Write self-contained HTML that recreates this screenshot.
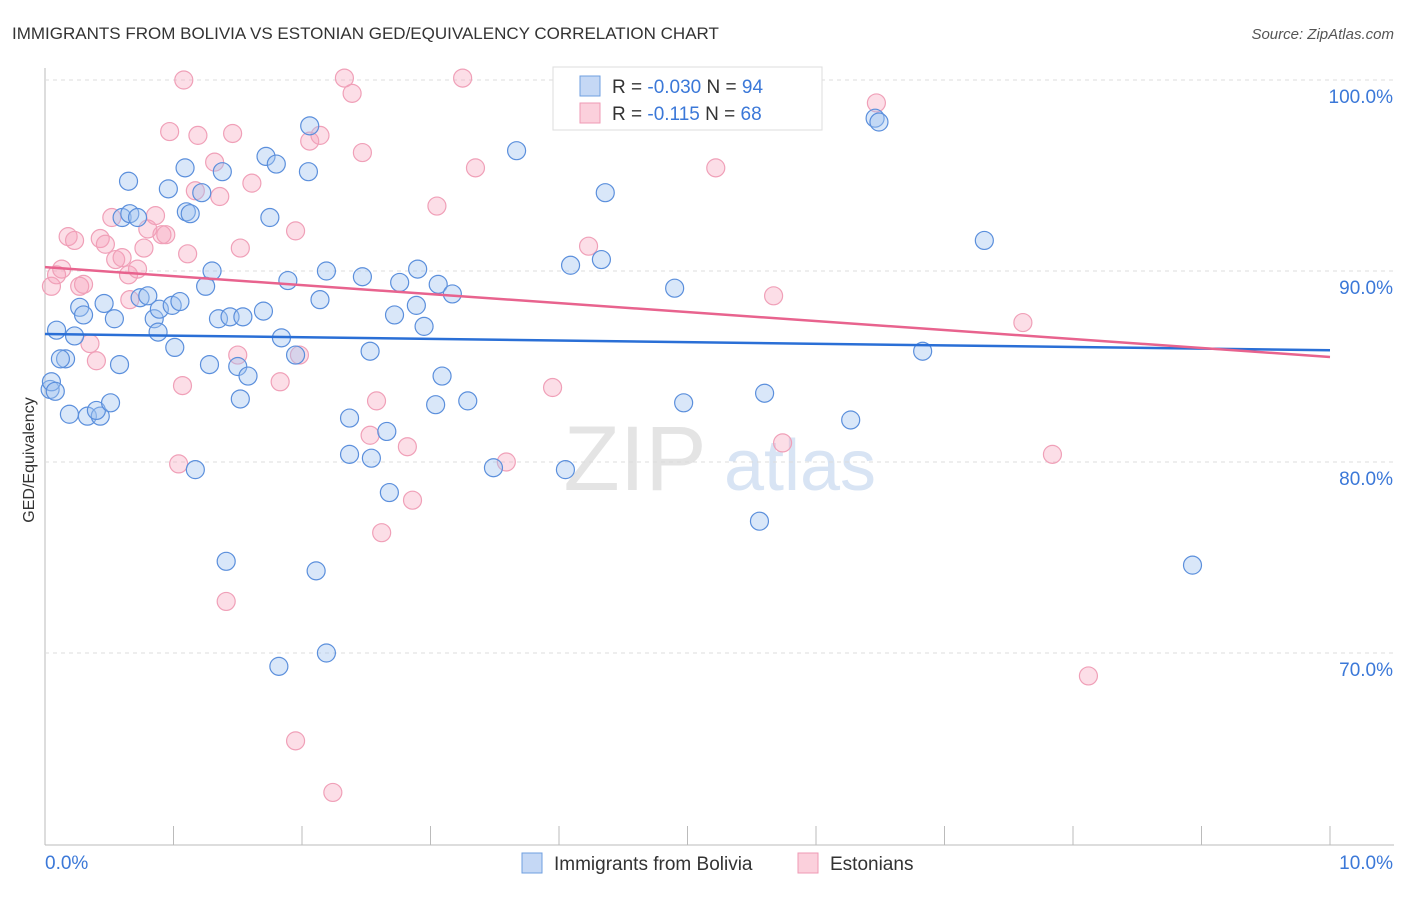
<!DOCTYPE html>
<html><head><meta charset="utf-8"><style>
body{margin:0;background:#fff;font-family:"Liberation Sans",sans-serif}
svg text{font-family:"Liberation Sans",sans-serif}
</style></head><body>
<svg id="chart" width="1406" height="892">
<text x="12" y="39" font-size="17" fill="#333">IMMIGRANTS FROM BOLIVIA VS ESTONIAN GED/EQUIVALENCY CORRELATION CHART</text>
<text x="1394" y="39" font-size="15" fill="#555" text-anchor="end" font-style="italic">Source: ZipAtlas.com</text>
<text x="34" y="460" font-size="16" fill="#333" text-anchor="middle" transform="rotate(-90 34 460)">GED/Equivalency</text>
<g><text x="635" y="490" font-size="92" fill="#e4e4e4" text-anchor="middle" font-family="Liberation Serif">ZIP</text><text x="800" y="490" font-size="72" fill="#d8e4f4" text-anchor="middle">atlas</text></g>
<g id="grid"></g><g id="pts"></g><g id="lines"></g>
<g>
<rect x="553" y="67" width="269" height="63" fill="#fff" stroke="#ddd"/>
<rect x="580" y="76" width="20" height="20" fill="#c5d8f5" stroke="#6f9fe0"/>
<rect x="580" y="103" width="20" height="20" fill="#fbd0dc" stroke="#ef9ab4"/>
<text x="612" y="93" font-size="19" fill="#333">R = <tspan fill="#3b78d8">-0.030</tspan>   N = <tspan fill="#3b78d8">94</tspan></text>
<text x="612" y="120" font-size="19" fill="#333">R =   <tspan fill="#3b78d8">-0.115</tspan>   N = <tspan fill="#3b78d8">68</tspan></text>
</g>
<g>
<rect x="522" y="853" width="20" height="20" fill="#c5d8f5" stroke="#6f9fe0"/>
<text x="554" y="870" font-size="19" fill="#333">Immigrants from Bolivia</text>
<rect x="798" y="853" width="20" height="20" fill="#fbd0dc" stroke="#ef9ab4"/>
<text x="830" y="870" font-size="19" fill="#333">Estonians</text>
</g>
</svg>
<script>
const yTicks=[100,90,80,70];
const xTickLabels=["0.0%","10.0%"];
const blueX=[0.09,0.16,0.12,0.19,0.33,0.43,0.40,0.51,0.23,0.27,0.30,0.46,0.54,0.58,0.65,0.60,0.66,0.72,0.74,0.80,0.85,0.88,0.89,0.96,0.99,1.01,1.05,1.10,1.13,1.09,1.17,1.22,1.25,1.28,1.30,1.38,1.35,1.41,1.44,1.50,1.52,1.54,1.58,1.70,1.72,1.75,1.80,1.82,1.84,1.89,1.95,2.05,2.06,2.11,2.14,2.19,2.19,2.37,2.37,2.47,2.53,2.54,2.66,2.68,2.72,2.76,2.89,2.90,2.95,3.04,3.06,3.09,3.17,3.29,3.49,3.67,4.05,4.09,4.33,4.36,4.90,4.97,5.56,5.60,6.27,6.46,6.49,6.83,7.31,8.93,0.04,0.05,0.08];
const blueY=[86.9,85.4,85.4,82.5,82.4,82.4,82.7,83.1,86.6,88.1,87.7,88.3,87.5,85.1,94.7,92.8,93.0,92.8,88.6,88.7,87.5,86.8,88.0,94.3,88.2,86.0,88.4,93.1,93.0,95.4,79.6,94.1,89.2,85.1,90.0,95.2,87.5,74.8,87.6,85.0,83.3,87.6,84.5,87.9,96.0,92.8,95.6,69.3,86.5,89.5,85.6,95.2,97.6,74.3,88.5,70.0,90.0,80.4,82.3,89.7,85.8,80.2,81.6,78.4,87.7,89.4,88.2,90.1,87.1,83.0,89.3,84.5,88.8,83.2,79.7,96.3,79.6,90.3,90.6,94.1,89.1,83.1,76.9,83.6,82.2,98.0,97.8,85.8,91.6,74.6,83.8,84.2,83.7];
const pinkX=[0.05,0.09,0.13,0.18,0.23,0.27,0.30,0.35,0.40,0.43,0.47,0.52,0.55,0.60,0.65,0.66,0.72,0.77,0.80,0.86,0.91,0.94,0.97,1.04,1.07,1.08,1.11,1.17,1.19,1.32,1.36,1.46,1.50,1.52,1.41,1.61,1.83,1.95,1.95,1.98,2.06,2.14,2.24,2.33,2.39,2.47,2.53,2.58,2.62,2.82,2.86,3.05,3.25,3.35,3.59,3.95,4.23,5.22,5.67,5.74,5.95,6.47,7.61,7.84,8.12];
const pinkY=[89.2,89.8,90.1,91.8,91.6,89.2,89.3,86.2,85.3,91.7,91.4,92.8,90.6,90.7,89.8,88.5,90.1,91.2,92.2,92.9,91.9,91.9,97.3,79.9,84.0,100.0,90.9,94.2,97.1,95.7,93.9,97.2,85.6,91.2,72.7,94.6,84.2,65.4,92.1,85.6,96.8,97.1,62.7,100.1,99.3,96.2,81.4,83.2,76.3,80.8,78.0,93.4,100.1,95.4,80.0,83.9,91.3,95.4,88.7,81.0,100.1,98.8,87.3,80.4,68.8];
const X=v=>45+v*128.5, Y=v=>80+(100-v)*19.1;
const ns="http://www.w3.org/2000/svg";
function mk(tag,attrs,parent){const e=document.createElementNS(ns,tag);for(const k in attrs)e.setAttribute(k,attrs[k]);parent.appendChild(e);return e;}
const grid=document.getElementById('grid');
mk('line',{x1:45,y1:68,x2:45,y2:845,stroke:'#bbb'},grid);
mk('line',{x1:45,y1:845,x2:1394,y2:845,stroke:'#bbb'},grid);
yTicks.forEach(t=>{
 const l=mk('line',{x1:45,y1:Y(t),x2:1394,y2:Y(t),stroke:'#ddd','stroke-dasharray':'4 4'},grid);
 
 
 const tx=mk('text',{x:1393,y:Y(t)+23,'font-size':19,fill:'#3b78d8','text-anchor':'end'},grid);
 tx.textContent=t.toFixed(1)+'%';
 
 
});
for(let i=0;i<=10;i++){
 const l=mk('line',{x1:X(i),y1:826,x2:X(i),y2:845,stroke:'#bbb'},grid);
 
 
}
[[0,45,'start'],[1,1393,'end']].forEach(([i,x,a])=>{
 const tx=mk('text',{x:x,y:869,'font-size':19,fill:'#3b78d8','text-anchor':a},grid);
 tx.textContent=xTickLabels[i];
 
 
});
const pts=document.getElementById('pts');
pinkX.forEach((x,i)=>{
 const c=mk('circle',{cx:X(x),cy:Y(pinkY[i]),r:9,fill:'rgba(245,160,185,0.35)',stroke:'#f0a0b8','stroke-width':1.2},pts);
 
 
});
blueX.forEach((x,i)=>{
 const c=mk('circle',{cx:X(x),cy:Y(blueY[i]),r:9,fill:'rgba(160,195,240,0.4)',stroke:'#5b8fdc','stroke-width':1.2},pts);
 
 
});
const lines=document.getElementById('lines');
const bl=mk('line',{x1:X(0),y1:Y(86.7),x2:X(10),y2:Y(85.85),stroke:'#2a6fd6','stroke-width':2.5},lines);


const pl=mk('line',{x1:X(0),y1:Y(90.2),x2:X(10),y2:Y(85.5),stroke:'#e8638e','stroke-width':2.5},lines);


</script>
</body></html>
